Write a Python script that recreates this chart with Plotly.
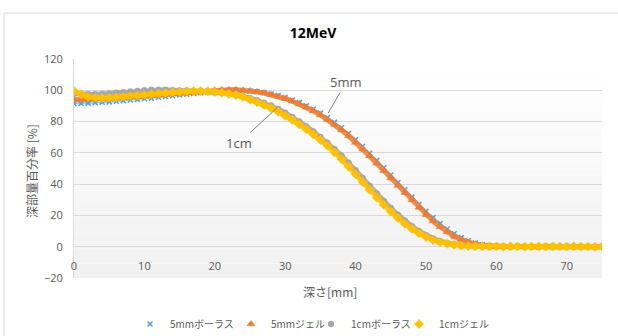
import plotly.graph_objects as go

# ---------------- data ----------------
depth_mm = list(range(0, 76))

bolus_5mm = [91.5, 91.6, 91.8, 92.0, 92.3, 92.6, 93.0, 93.4, 93.8, 94.2,
             94.6, 95.0, 95.5, 96.0, 96.5, 97.0, 97.5, 98.0, 98.5, 99.0,
             99.4, 99.7, 99.9, 100.0, 99.9, 99.6, 99.1, 98.5, 97.6, 96.6,
             95.3, 93.8, 92.1, 90.1, 87.9, 85.4, 82.6, 79.5, 76.1, 72.4,
             68.4, 64.2, 59.8, 55.2, 50.5, 45.8, 41.1, 36.4, 31.7, 27.1,
             22.7, 18.6, 14.8, 11.3, 8.3, 5.8, 3.8, 2.3, 1.3, 0.7,
             0.3, 0.1, 0.0, 0.2, 0.1, 0.0, -0.1, 0.1, 0.2, 0.0,
             0.1, 0.0, -0.1, 0.1, 0.0, -0.2]

gel_5mm = [94.0, 94.2, 94.3, 94.4, 94.6, 94.8, 95.0, 95.3, 95.6, 96.0,
           96.3, 96.7, 97.1, 97.5, 97.9, 98.3, 98.7, 99.1, 99.5, 99.8,
           100.1, 100.3, 100.4, 100.3, 100.0, 99.6, 99.0, 98.2, 97.2, 96.0,
           94.6, 93.0, 91.2, 89.1, 86.8, 84.2, 81.3, 78.1, 74.6, 70.8,
           66.7, 62.4, 57.9, 53.3, 48.6, 43.9, 39.2, 34.5, 29.8, 25.1,
           20.5, 16.4, 12.7, 9.4, 6.6, 4.4, 2.8, 1.7, 1.0, 0.5,
           0.3, 0.1, 0.1, 0.0, 0.2, 0.1, 0.0, 0.1, 0.0, 0.1,
           0.2, 0.0, 0.1, 0.0, 0.1, 0.0]

bolus_1cm = [97.8, 97.5, 97.4, 97.5, 97.7, 98.0, 98.4, 98.8, 99.2, 99.6,
             100.0, 100.3, 100.4, 100.3, 100.1, 99.9, 99.8, 99.7, 99.6, 99.4,
             99.1, 98.6, 98.0, 97.2, 96.2, 95.0, 93.6, 92.0, 90.2, 88.0,
             85.6, 82.9, 80.0, 76.9, 73.6, 70.1, 66.4, 62.4, 58.2, 53.7,
             48.9, 43.9, 38.9, 34.0, 29.2, 24.7, 20.5, 16.6, 13.1, 10.0,
             7.4, 5.3, 3.6, 2.4, 1.5, 0.9, 0.5, 0.3, 0.2, 0.1,
             0.2, 0.0, 0.1, 0.3, 0.1, 0.0, 0.2, 0.1, 0.0, 0.2,
             0.1, 0.0, 0.2, 0.1, 0.0, 0.1]

gel_1cm = [99.5, 97.5, 95.8, 95.2, 95.0, 95.2, 95.5, 95.9, 96.3, 96.7,
           97.1, 97.5, 97.9, 98.3, 98.7, 99.0, 99.3, 99.5, 99.5, 99.3,
           98.9, 98.4, 97.7, 96.9, 95.7, 94.0, 92.4, 90.6, 88.6, 86.3,
           83.8, 81.1, 78.2, 75.1, 71.8, 68.3, 64.5, 60.4, 56.0, 51.3,
           46.4, 41.4, 36.4, 31.5, 26.8, 22.4, 18.4, 14.7, 11.4, 8.6,
           6.2, 4.3, 2.9, 1.9, 1.2, 0.7, 0.4, 0.3, 0.2, 0.1,
           0.1, 0.0, 0.2, 0.1, 0.0, 0.1, 0.2, 0.0, 0.1, 0.1,
           0.0, 0.2, 0.1, 0.0, -0.1, 0.1]

series_names = ["5mmボーラス", "5mmジェル", "1cmボーラス", "1cmジェル"]
y_ticks = [-20, 0, 20, 40, 60, 80, 100, 120]
x_ticks = [0, 10, 20, 30, 40, 50, 60, 70]

# ---------------- style ----------------
W, H = 618, 336
L, R, T, B = 74, 16, 59, 58
PW, PH = W - L - R, H - T - B
colors = ["#5B9BD5", "#ED7D31", "#A5A5A5", "#FFC000"]
symbols = ["x-thin", "triangle-up", "circle", "diamond"]
msizes = [5, 7, 6, 7]
lwidths = [2, 5, 5, 5]
legend_ids = ["legend", "legend2", "legend3", "legend4"]
legend_sym_px = [155, 256, 336, 424]
JP = "Noto Sans CJK JP"
TXT = "#595959"


def px_x(p):
    return (p - L) / PW


def px_y(p):
    return (H - B - p) / PH


fig = go.Figure()
all_series = [bolus_5mm, gel_5mm, bolus_1cm, gel_1cm]
for vals, name, c, sym, ms, lw, lg in zip(all_series, series_names, colors, symbols,
                                          msizes, lwidths, legend_ids):
    fig.add_trace(go.Scatter(x=depth_mm, y=vals, mode="lines", showlegend=False,
                             line=dict(color=c, width=lw), hoverinfo="skip",
                             opacity=0.85 if lw > 2 else 0.6))
    mk = dict(color=c, size=ms, symbol=sym)
    mk["line"] = dict(color=c, width=1.5 if sym == "x-thin" else 0.5)
    fig.add_trace(go.Scatter(x=depth_mm, y=vals, mode="markers", name=name,
                             marker=mk, legend=lg))

# plot area gradient background (white -> light gray)
n = 30
shapes = []
for i in range(n):
    t = i / (n - 1)
    g = int(round(255 - 14 * (1 - t)))
    shapes.append(dict(type="rect", xref="paper", yref="paper", x0=0, x1=1,
                       y0=i / n, y1=(i + 1) / n, layer="below",
                       line=dict(width=0), fillcolor=f"rgb({g},{g},{g})"))
# outer chart frame
shapes.append(dict(type="rect", xref="paper", yref="paper",
                   x0=px_x(4), x1=px_x(W + 20), y0=px_y(H + 20), y1=px_y(13),
                   line=dict(color="#D9D9D9", width=1), fillcolor="rgba(0,0,0,0)"))

layout_legends = {}
for lg, sx in zip(legend_ids, legend_sym_px):
    layout_legends[lg] = dict(orientation="h", x=px_x(sx - 25), xanchor="left",
                              y=px_y(324), yanchor="middle",
                              font=dict(family=JP, size=10, color=TXT),
                              bgcolor="rgba(0,0,0,0)", itemwidth=30)

fig.update_layout(
    width=W, height=H,
    margin=dict(l=L, r=R, t=T, b=B, autoexpand=False),
    paper_bgcolor="white", plot_bgcolor="white",
    shapes=shapes,
    title=dict(text="<b>12MeV</b>", x=px_x(313), xref="paper", xanchor="center",
               y=1 - 33 / H, yanchor="middle",
               font=dict(family="Open Sans", size=14, color="#000000")),
    font=dict(family=JP, color=TXT),
    annotations=[
        dict(x=36.1, y=85.4, xref="x", yref="y", text="5mm", showarrow=True,
             arrowhead=0, arrowwidth=1, arrowcolor="#7F7F7F", ax=18, ay=-31,
             font=dict(family="Open Sans", size=13, color=TXT)),
        dict(x=28.8, y=88.6, xref="x", yref="y", text="1cm", showarrow=True,
             arrowhead=0, arrowwidth=1, arrowcolor="#7F7F7F", ax=-38, ay=35,
             font=dict(family="Open Sans", size=13, color=TXT)),
        dict(x=px_x(330), y=px_y(291), xref="paper", yref="paper", text="深さ[mm]",
             showarrow=False, xanchor="center", yanchor="middle",
             font=dict(family=JP, size=12, color=TXT)),
        dict(x=px_x(31), y=px_y(171), xref="paper", yref="paper", text="深部量百分率 [%]",
             showarrow=False, xanchor="center", yanchor="middle", textangle=-90,
             font=dict(family=JP, size=12, color=TXT)),
    ],
    **layout_legends,
)

fig.update_xaxes(range=[0, 75], tickvals=x_ticks, showgrid=False, zeroline=False,
                 anchor="free", position=px_y(246.7), automargin=False,
                 showline=False, ticks="outside", ticklen=9, tickcolor="rgba(0,0,0,0)",
                 tickfont=dict(family="Open Sans", size=11, color=TXT))
fig.update_yaxes(range=[-20, 120], tickvals=y_ticks, showgrid=True, gridcolor="#D9D9D9",
                 gridwidth=1, zeroline=False, showline=True, linecolor="#D9D9D9",
                 ticks="outside", ticklen=8, tickcolor="rgba(0,0,0,0)", automargin=False,
                 tickfont=dict(family="Open Sans", size=11, color=TXT))

fig.write_html("out.html")
